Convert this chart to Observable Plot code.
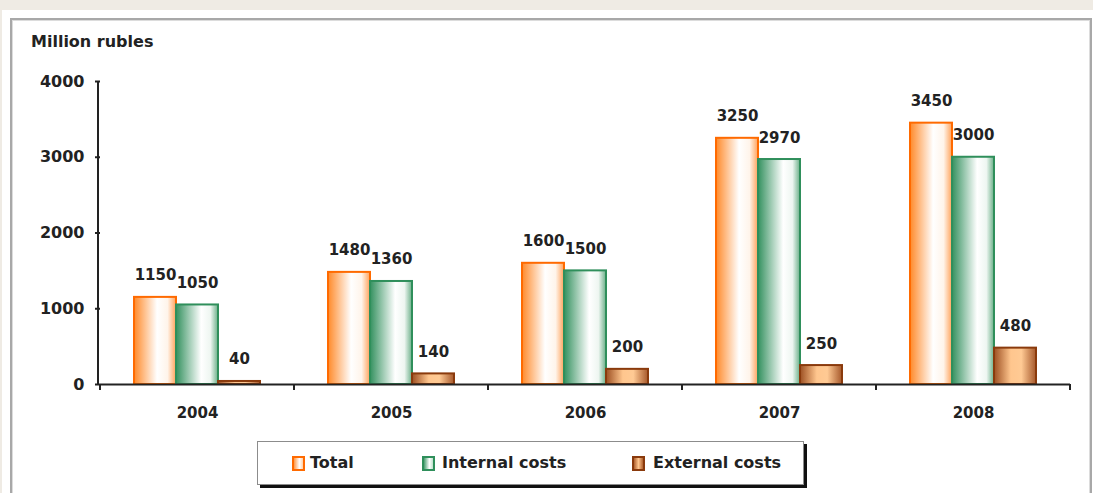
<!DOCTYPE html>
<html><head><meta charset="utf-8">
<script src="https://cdn.jsdelivr.net/npm/d3@7"></script>
<script src="https://cdn.jsdelivr.net/npm/@observablehq/plot@0.6"></script>
<style>
html,body{margin:0;padding:0;background:#fff;}
body{width:1093px;height:493px;position:relative;overflow:hidden;font-family:"DejaVu Sans",sans-serif;}
#topstrip{position:absolute;left:0;top:0;width:1093px;height:10px;background:#efebe4;}
#leftstrip{position:absolute;left:0;top:0;width:2px;height:493px;background:#efebe4;}
#frame{position:absolute;left:10px;top:18px;width:1078px;height:520px;border:2px solid #a8a8a8;box-shadow:inset 0 0 0 1px #dcdcdc;}
#unit{position:absolute;left:31px;top:32px;font-weight:bold;font-size:16px;color:#222;white-space:nowrap;}
#chart{position:absolute;left:0;top:0;}
#legend{position:absolute;left:257px;top:441px;width:545px;height:42px;border:1px solid #8c8c8c;background:#fff;box-shadow:3px 3px 0 #111;}
.sw{position:absolute;top:14px;width:9px;height:11px;border:2px solid;}
.lt{position:absolute;top:11px;font-weight:bold;font-size:16px;color:#222;white-space:nowrap;}
</style>
</head><body>
<div id="topstrip"></div><div id="leftstrip"></div>
<div id="frame"></div>
<div id="chart"></div>
<div id="unit"></div>
<div id="legend"></div>
<script>
const years = ["2004","2005","2006","2007","2008"];
const series = ["Total","Internal costs","External costs"];
const total = [1150,1480,1600,3250,3450];
const internal = [1050,1360,1500,2970,3000];
const external = [40,140,200,250,480];
const yTicks = [0,1000,2000,3000,4000];
const unitLabel = "Million rubles";

const seriesValues = [total, internal, external];
const data = years.flatMap((yr,i)=> series.map((s,j)=>({year:yr, series:s, value:seriesValues[j][i]})));

const gradIds = ["gTotal","gInternal","gExternal"];
const strokes = ["#ff6a00","#2f8f5b","#8a3a0c"];
const gradStops = [
  [[0,"#ff8a2a"],[0.55,"#ffffff"],[0.8,"#fff4ea"],[1,"#ffa25a"]],
  [[0,"#34915f"],[0.6,"#ffffff"],[0.82,"#eef6f1"],[1,"#6aaf88"]],
  [[0,"#9c4f22"],[0.4,"#ffc68e"],[0.65,"#ffca94"],[1,"#a6582b"]]
];

const chart = Plot.plot({
  width:1093, height:493,
  marginLeft:98, marginRight:21, marginTop:81, marginBottom:109,
  style:{background:"transparent", fontFamily:"DejaVu Sans", fontSize:"16px", fontWeight:"bold", color:"#222"},
  fx:{domain:years, padding:0, label:null},
  x:{domain:series, paddingInner:0, paddingOuter:0.78, axis:null},
  y:{domain:[0,4000], axis:null},
  marks:[
    Plot.axisY({ticks:yTicks, tickSize:5, tickPadding:11, tickFormat:d=>String(d), label:null, strokeWidth:2, fontSize:16}),
    Plot.axisFx({anchor:"bottom", tickSize:0, tickPadding:23, label:null, fontSize:15}),
    ...series.map((s,j)=>Plot.barY(data.filter(d=>d.series===s), {fx:"year", x:"series", y:"value", fill:`url(#${gradIds[j]})`, stroke:strokes[j], strokeWidth:2})),
    Plot.text(data, {fx:"year", x:"series", y:"value", text:d=>String(d.value), lineAnchor:"bottom", dy:-17, fontSize:15}),
    Plot.ruleY([0], {stroke:"#222", strokeWidth:2})
  ]
});

const svg = d3.select(chart);
const defs = svg.insert("defs", ":first-child");
gradIds.forEach((id,j)=>{
  const g = defs.append("linearGradient").attr("id",id).attr("x1",0).attr("x2",1).attr("y1",0).attr("y2",0);
  gradStops[j].forEach(([o,c])=>g.append("stop").attr("offset",o).attr("stop-color",c));
});

// axis lines from the scales
const fx = chart.scale("fx");
const ys = chart.scale("y");
const y0 = ys.apply(0), yTop = ys.apply(4000);
const x0 = fx.range[0];
const bounds = years.map(y=>fx.apply(y)).concat([fx.apply(years[years.length-1]) + fx.bandwidth]);
const ax = svg.append("g").attr("stroke","#222").attr("stroke-width",2);
ax.append("line").attr("x1",x0).attr("x2",x0).attr("y1",yTop).attr("y2",y0+1);
bounds.forEach(b=>ax.append("line").attr("x1",b).attr("x2",b).attr("y1",y0).attr("y2",y0+6));

document.getElementById("chart").appendChild(chart);
document.getElementById("unit").textContent = unitLabel;

// legend
const legend = d3.select("#legend");
const swX = [34,164,374], txX = [52,184,395];
const swBg = [
  "linear-gradient(to right,#ff9a48,#ffffff 60%,#ffd0a8)",
  "linear-gradient(to right,#4a9e70,#ffffff 60%,#bfe0cc)",
  "linear-gradient(to right,#b0602e,#ffc68e 50%,#b0602e)"
];
series.forEach((s,j)=>{
  legend.append("div").attr("class","sw").style("left",swX[j]+"px").style("border-color",strokes[j]).style("background",swBg[j]);
  legend.append("div").attr("class","lt").style("left",txX[j]+"px").text(s);
});
</script>
</body></html>
